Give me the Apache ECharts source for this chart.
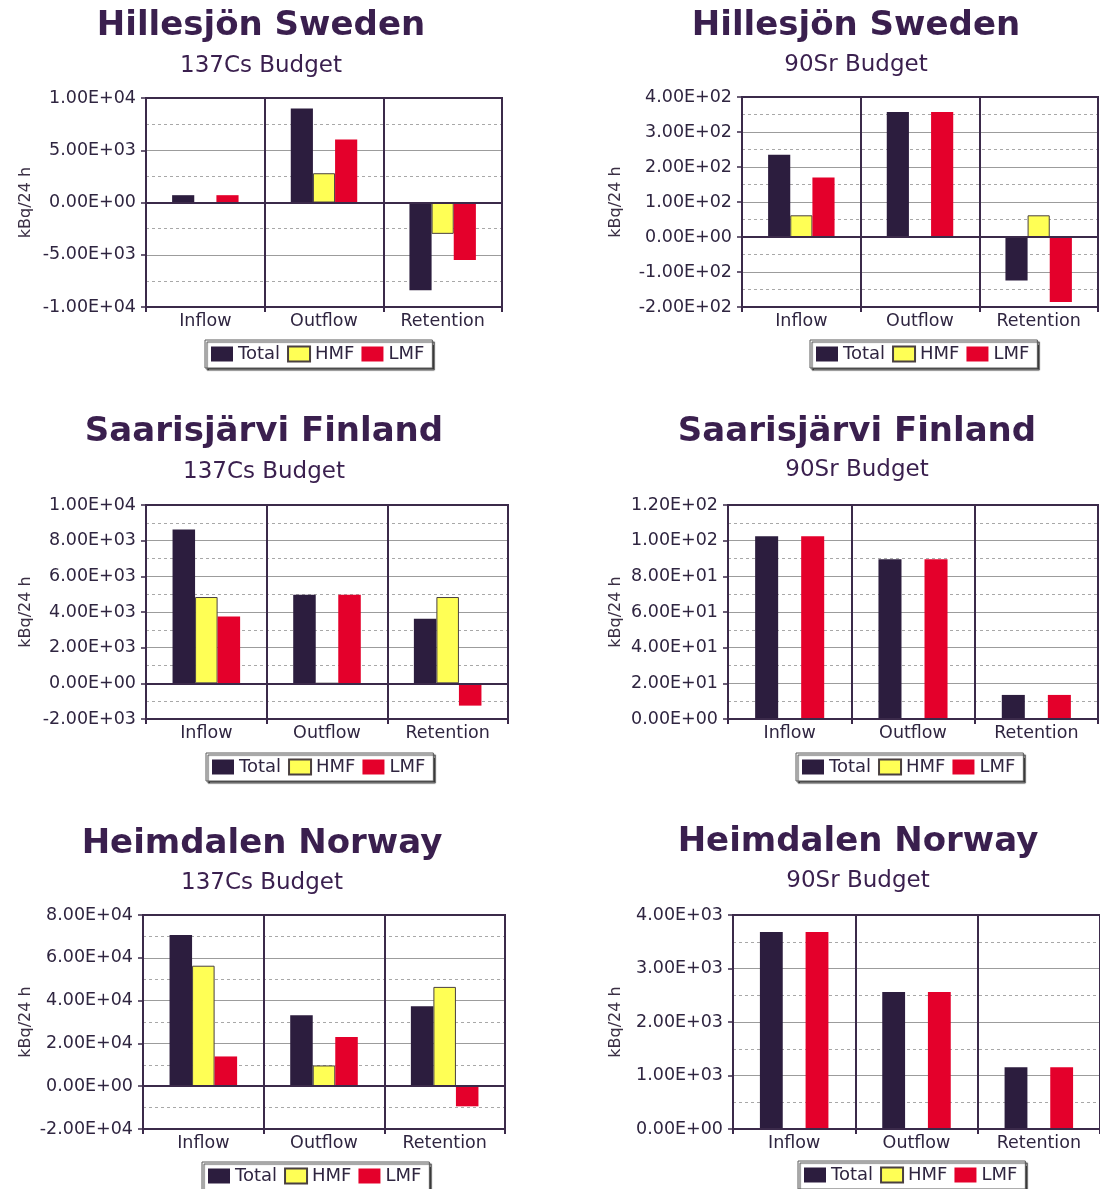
<!DOCTYPE html>
<html>
<head>
<meta charset="utf-8">
<title>137Cs and 90Sr budgets</title>
<script src="https://cdn.jsdelivr.net/npm/echarts@6/dist/echarts.min.js"></script>
<style>
  html, body { margin: 0; padding: 0; background: #ffffff; }
  #chart { width: 1100px; height: 1189px; }
</style>
</head>
<body>
<div id="chart"></div>
<script>
// Budget components on the category axis
const categories = ['Inflow', 'Outflow', 'Retention'];
const seriesNames = ['Total', 'HMF', 'LMF'];

// Hillesjön, Sweden – 137Cs (kBq/24 h)
const hilCsTotal = [700, 9000, -8400];
const hilCsHMF   = [0, 2800, -3000];
const hilCsLMF   = [700, 6030, -5500];
const hilCsRange = [-10000, 10000, 5000];   // min, max, tick interval

// Hillesjön, Sweden – 90Sr
const hilSrTotal = [235, 357, -124];
const hilSrHMF   = [62, 0, 62];
const hilSrLMF   = [170, 357, -186];
const hilSrRange = [-200, 400, 100];

// Saarisjärvi, Finland – 137Cs
const saaCsTotal = [8630, 4970, 3620];
const saaCsHMF   = [4840, 0, 4840];
const saaCsLMF   = [3750, 4970, -1250];
const saaCsRange = [-2000, 10000, 2000];

// Saarisjärvi, Finland – 90Sr
const saaSrTotal = [102.5, 89.6, 13.5];
const saaSrHMF   = [0, 0, 0];
const saaSrLMF   = [102.5, 89.6, 13.5];
const saaSrRange = [0, 120, 20];

// Heimdalen, Norway – 137Cs
const heiCsTotal = [70600, 33100, 37400];
const heiCsHMF   = [56300, 9700, 46400];
const heiCsLMF   = [13900, 23000, -9400];
const heiCsRange = [-20000, 80000, 20000];

// Heimdalen, Norway – 90Sr
const heiSrTotal = [3680, 2560, 1155];
const heiSrHMF   = [0, 0, 0];
const heiSrLMF   = [3680, 2560, 1155];
const heiSrRange = [0, 4000, 1000];

const axisName = 'kBq/24 h';

const panels = [
  { title: 'Hillesjön Sweden',    sub: '137Cs Budget', values: [hilCsTotal, hilCsHMF, hilCsLMF], range: hilCsRange },
  { title: 'Hillesjön Sweden',    sub: '90Sr Budget',  values: [hilSrTotal, hilSrHMF, hilSrLMF], range: hilSrRange },
  { title: 'Saarisjärvi Finland', sub: '137Cs Budget', values: [saaCsTotal, saaCsHMF, saaCsLMF], range: saaCsRange },
  { title: 'Saarisjärvi Finland', sub: '90Sr Budget',  values: [saaSrTotal, saaSrHMF, saaSrLMF], range: saaSrRange },
  { title: 'Heimdalen Norway',    sub: '137Cs Budget', values: [heiCsTotal, heiCsHMF, heiCsLMF], range: heiCsRange },
  { title: 'Heimdalen Norway',    sub: '90Sr Budget',  values: [heiSrTotal, heiSrHMF, heiSrLMF], range: heiSrRange }
];

// Page layout of the six panels
const layout = [
  { grid: { left: 146, top: 98,  width: 356, height: 209 }, tx: 256, ty: 4,   sy: 50,  lx: 205, ly: 340,  gap: 112 },
  { grid: { left: 742, top: 97,  width: 356, height: 210 }, tx: 851, ty: 4,   sy: 49,  lx: 810, ly: 340,  gap: 118 },
  { grid: { left: 146, top: 505, width: 362, height: 214 }, tx: 259, ty: 410, sy: 456, lx: 206, ly: 753,  gap: 112 },
  { grid: { left: 728, top: 505, width: 370, height: 214 }, tx: 852, ty: 410, sy: 454, lx: 796, ly: 753,  gap: 104 },
  { grid: { left: 143, top: 915, width: 362, height: 214 }, tx: 257, ty: 822, sy: 867, lx: 202, ly: 1162, gap: 109 },
  { grid: { left: 733, top: 915, width: 369, height: 214 }, tx: 853, ty: 820, sy: 865, lx: 798, ly: 1161, gap: 109 }
];

const FONT = 'DejaVu Sans';
const INK = '#3a1f4e';
const FRAME = '#3b2a4a';
const LABEL = '#2f2540';

const barStyles = [
  { color: '#2c1d3e' },
  { color: '#ffff55', borderColor: '#4a4040', borderWidth: 1 },
  { color: '#e4002b' }
];

// 1.00E+04 style tick labels
function sci(v) {
  const s = Number(v).toExponential(2);
  const parts = s.split('e');
  const sign = parts[1][0];
  const exp = parts[1].slice(1).padStart(2, '0');
  return parts[0] + 'E' + sign + exp;
}

const option = {
  backgroundColor: '#ffffff',
  animation: false,
  title: [],
  legend: [],
  grid: [],
  xAxis: [],
  yAxis: [],
  series: []
};

panels.forEach((p, i) => {
  const L = layout[i];
  option.title.push({
    text: p.title, left: L.tx, top: L.ty, textAlign: 'center',
    textStyle: { fontFamily: FONT, fontSize: 34, fontWeight: 'bold', color: INK }
  });
  option.title.push({
    text: p.sub, left: L.tx, top: L.sy, textAlign: 'center',
    textStyle: { fontFamily: FONT, fontSize: 23, fontWeight: 'normal', color: INK }
  });

  option.grid.push(Object.assign({
    show: true, borderColor: FRAME, borderWidth: 2, backgroundColor: '#ffffff', containLabel: false
  }, L.grid));

  option.xAxis.push({
    type: 'category', gridIndex: i, data: categories, position: 'bottom',
    axisLine: { show: true, onZero: false, lineStyle: { color: FRAME, width: 2 } },
    axisTick: { show: true, inside: false, length: 5, interval: 0, lineStyle: { color: FRAME, width: 2 } },
    axisLabel: { interval: 0, margin: 5, fontFamily: FONT, fontSize: 17.5, color: LABEL },
    splitLine: { show: true, interval: 0, lineStyle: { color: FRAME, width: 2 } }
  });

  option.yAxis.push({
    type: 'value', gridIndex: i,
    min: p.range[0], max: p.range[1], interval: p.range[2],
    name: axisName, nameLocation: 'middle', nameGap: L.gap, nameRotate: 90,
    nameTextStyle: { fontFamily: FONT, fontSize: 16, color: '#3b3045' },
    axisLine: { show: true, lineStyle: { color: FRAME, width: 2 } },
    axisTick: { show: true, inside: false, length: 5, lineStyle: { color: FRAME, width: 1.5 } },
    axisLabel: { margin: 10, fontFamily: FONT, fontSize: 17.5, color: LABEL, formatter: sci },
    splitLine: { show: true, showMinLine: false, showMaxLine: false, lineStyle: { color: '#9c9c9c', width: 1 } },
    minorTick: { show: false, splitNumber: 2 },
    minorSplitLine: { show: true, lineStyle: { color: '#a8a8a8', width: 1, type: [3, 3] } }
  });

  option.legend.push({
    data: seriesNames, left: L.lx, top: L.ly, orient: 'horizontal',
    icon: 'rect', itemWidth: 22, itemHeight: 15, itemGap: 7,
    padding: [5, 8, 5, 6],
    backgroundColor: '#ffffff', borderColor: '#5a5a5a', borderWidth: 1,
    shadowColor: 'rgba(30,30,30,0.85)', shadowBlur: 1, shadowOffsetX: 2, shadowOffsetY: 2,
    selectedMode: false,
    textStyle: { fontFamily: FONT, fontSize: 18, color: LABEL }
  });

  p.values.forEach((vals, k) => {
    const s = {
      type: 'bar', name: seriesNames[k], xAxisIndex: i, yAxisIndex: i,
      data: vals, barGap: '0%', barCategoryGap: '44%',
      itemStyle: barStyles[k], silent: true
    };
    if (k === 0) {
      // axis crossing at zero
      s.markLine = {
        silent: true, symbol: 'none', label: { show: false },
        lineStyle: { color: FRAME, width: 2, type: 'solid' },
        data: [{ yAxis: 0 }]
      };
    }
    option.series.push(s);
  });
});

const chart = echarts.init(document.getElementById('chart'), null, { renderer: 'canvas' });
chart.setOption(option);
</script>
</body>
</html>
